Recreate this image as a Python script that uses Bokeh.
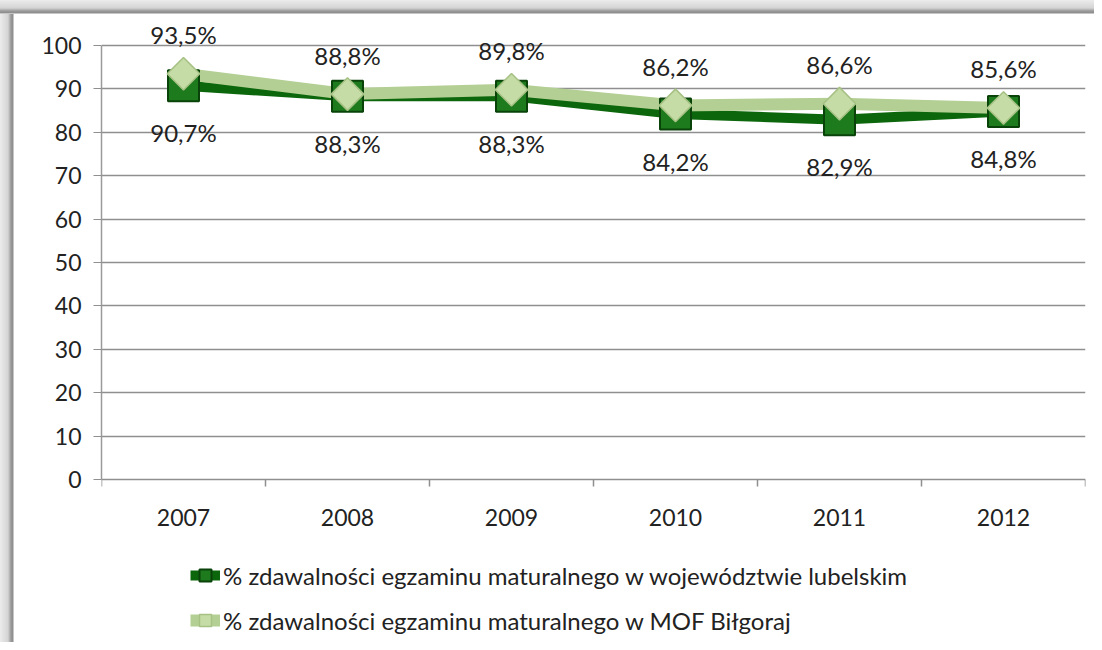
import math
from bokeh.plotting import figure
from bokeh.models import (ColumnDataSource, FixedTicker, Legend, LegendItem, Range1d, LabelSet)
from bokeh.core.properties import value
from bokeh.embed import file_html
from bokeh.resources import INLINE

years = ["2007", "2008", "2009", "2010", "2011", "2012"]
lubelskie = [90.7, 88.3, 88.3, 84.2, 82.9, 84.8]
bilgoraj = [93.5, 88.8, 89.8, 86.2, 86.6, 85.6]
series_names = ["% zdawalności egzaminu maturalnego w województwie lubelskim",
                "% zdawalności egzaminu maturalnego w MOF Biłgoraj"]
y_ticks = list(range(0, 101, 10))

FONT = "Lato"
W, H = 1094, 642
LEFT, RIGHT, TOP = 101, 9, 10
PX_PER_UNIT = 4.34
xs = [i + 0.5 for i in range(len(years))]
bounds = list(range(len(years) + 1))

def fmt(v):
    return ("%.1f%%" % v).replace(".", ",")

src = ColumnDataSource(dict(x=xs, a=lubelskie, b=bilgoraj, yr=years, zero=[0] * len(years),
                            la=[fmt(v) for v in lubelskie],
                            lb=[fmt(v) for v in bilgoraj]))

frame_h = H - TOP
y_top = 100 + 35 / PX_PER_UNIT
y_bot = y_top - frame_h / PX_PER_UNIT
p = figure(width=W, height=H, output_backend="svg", toolbar_location=None,
           x_range=Range1d(0, len(years)), y_range=Range1d(y_bot, y_top),
           min_border_left=LEFT, min_border_right=RIGHT, min_border_top=TOP, min_border_bottom=0,
           x_axis_location=None)
p.outline_line_color = None
p.background_fill_color = None
p.border_fill_color = None
# chart-area frame with soft shadow along the top and left edges
p.styles = {
    "background": ("linear-gradient(to bottom, #ececec 0px, #d4d4d4 8px, #9a9a9a 11px, "
                   "#8c8c8c 13px, #ffffff 14px) left top / 100% 14px no-repeat, "
                   "linear-gradient(to right, #ececec 0px, #d4d4d4 8px, #9a9a9a 11px, "
                   "#8c8c8c 13px, #ffffff 14px) left top / 14px 100% no-repeat, #ffffff"),
}

# y axis and grid
p.xgrid.grid_line_color = None
p.ygrid.ticker = FixedTicker(ticks=y_ticks)
p.ygrid.grid_line_color = "#8f8f8f"
p.ygrid.grid_line_width = 1.5
p.yaxis.ticker = FixedTicker(ticks=y_ticks)
p.yaxis.bounds = (0, 100)
p.yaxis.axis_line_color = "#9a9a9a"
p.yaxis.axis_line_width = 1.5
p.yaxis.major_tick_line_color = "#8f8f8f"
p.yaxis.major_tick_out = 8
p.yaxis.major_tick_in = 0
p.yaxis.minor_tick_line_color = None
p.yaxis.major_label_text_font = FONT
p.yaxis.major_label_text_font_size = "23px"
p.yaxis.major_label_text_color = "#222222"
p.yaxis.major_label_standoff = 12

# category axis at 0: boundary ticks and year labels
tick_len = 7 / PX_PER_UNIT
p.segment(x0=bounds, y0=[0] * len(bounds), x1=bounds, y1=[-tick_len] * len(bounds),
          line_color="#8f8f8f", line_width=1.5)
p.add_layout(LabelSet(x="x", y="zero", text="yr", source=src, y_offset=-38,
                      text_align="center", text_baseline="middle",
                      text_font=value(FONT), text_font_size="23px", text_color="#222222"))

# series
la = p.line("x", "a", source=src, line_color="#0c660c", line_width=10)
lb = p.line("x", "b", source=src, line_color="#b3cf93", line_width=12)
ma = p.scatter("x", "a", source=src, marker="square", size=31,
               fill_color="#1d7a1d", line_color="#0a430a", line_width=2)
mb = p.scatter("x", "b", source=src, marker="square", size=23, angle=math.pi / 4,
               fill_color="#c6dca6", line_color="#a6c184", line_width=1.5)

p.add_layout(LabelSet(x="x", y="b", text="lb", source=src, y_offset=39,
                      text_align="center", text_baseline="middle",
                      text_font=value(FONT), text_font_size="24px", text_color="#222222"))
p.add_layout(LabelSet(x="x", y="a", text="la", source=src, y_offset=-47,
                      text_align="center", text_baseline="middle",
                      text_font=value(FONT), text_font_size="24px", text_color="#222222"))

legend = Legend(items=[LegendItem(label=series_names[0], renderers=[la, ma]),
                       LegendItem(label=series_names[1], renderers=[lb, mb])],
                location=(89, 2), orientation="vertical",
                glyph_width=30, glyph_height=40, label_height=40, spacing=5,
                padding=0, margin=0, label_standoff=3,
                label_text_font=FONT, label_text_font_size="24px",
                label_text_color="#222222",
                border_line_color=None, background_fill_alpha=0)
p.add_layout(legend, "center")

open("out.html", "w").write(file_html(p, INLINE))
